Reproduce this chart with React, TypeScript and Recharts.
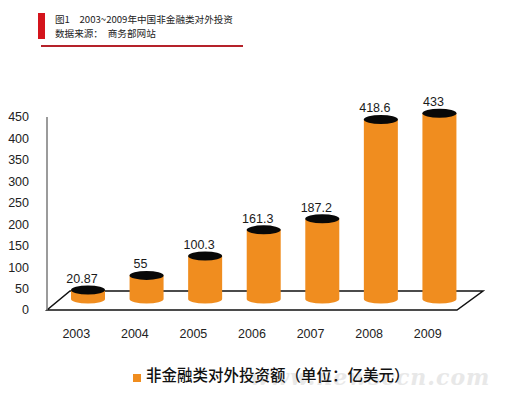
import { Bar, BarChart, LabelList, ReferenceLine, XAxis, YAxis } from "recharts";

const years = ["2003", "2004", "2005", "2006", "2007", "2008", "2009"];
const investment = [20.87, 55, 100.3, 161.3, 187.2, 418.6, 433];
const valueLabels = ["20.87", "55", "100.3", "161.3", "187.2", "418.6", "433"];
const yTicks = [0, 50, 100, 150, 200, 250, 300, 350, 400, 450];

const titleLine1 = "图1　2003~2009年中国非金融类对外投资";
const titleLine2 = "数据来源：　商务部网站";
const seriesName = "非金融类对外投资额（单位：亿美元）";

const data = years.map((year, i) => ({ year, value: investment[i], label: valueLabels[i] }));

const ORANGE = "#f08d1f";
const DEPTH_X = 12; // bars sit in the middle of the 3D floor
const DEPTH_Y = -11;
const FLOOR_DX = 24;
const FLOOR_DY = -19;
const NUM_FONT = "'Liberation Sans', Arial, sans-serif";
const CJK_FONT = "'Noto Sans CJK SC', 'Noto Sans', sans-serif";

function Cylinder(props: any) {
  const { x, y, width, height } = props;
  const rx = width / 2;
  const ry = 4.5;
  const cx = x + rx + DEPTH_X;
  const top = y + DEPTH_Y;
  const bottom = y + height + DEPTH_Y;
  return (
    <g>
      <path
        d={`M${cx - rx},${top} L${cx - rx},${bottom} A${rx},${ry} 0 0 0 ${cx + rx},${bottom} L${cx + rx},${top} Z`}
        fill={ORANGE}
      />
      <ellipse cx={cx} cy={top} rx={rx} ry={ry} fill="#080808" />
    </g>
  );
}

function ValueLabel(props: any) {
  const { x, y, width, value } = props;
  return (
    <text
      x={x + width / 2 + 6}
      y={y + DEPTH_Y - 11}
      textAnchor="middle"
      dominantBaseline="central"
      fontSize={12.5}
      fontFamily={NUM_FONT}
      fill="#1a1a1a"
    >
      {value}
    </text>
  );
}

function Floor(props: any) {
  const { x1, y1, x2, y2 } = props;
  const pts = [
    [x1, y1],
    [x2, y2],
    [x2 + FLOOR_DX + 2, y2 + FLOOR_DY],
    [x1 + FLOOR_DX - 1, y1 + FLOOR_DY],
  ];
  return (
    <polygon
      points={pts.map((p) => p.join(",")).join(" ")}
      fill="none"
      stroke="#111"
      strokeWidth={1.5}
    />
  );
}

const layer: React.CSSProperties = { position: "absolute", left: 0, top: 0 };

export default function App() {
  return (
    <div style={{ position: "absolute", left: 0, top: 0, width: 506, height: 399, background: "#fff" }}>
      {/* title block */}
      <div style={{ position: "absolute", left: 38, top: 13, width: 7, height: 26, background: "#d4141c" }} />
      <div
        style={{
          position: "absolute",
          left: 55,
          top: 12,
          fontFamily: CJK_FONT,
          fontSize: 9.6,
          lineHeight: "14px",
          color: "#222",
          whiteSpace: "pre",
        }}
      >
        <div>{titleLine1}</div>
        <div>{titleLine2}</div>
      </div>
      <div style={{ position: "absolute", left: 41, top: 45, width: 202, height: 2, background: "#b5222a" }} />

      {/* back layer: axes and the 3D floor */}
      <div style={layer}>
        <BarChart width={506} height={399} data={data} margin={{ top: 117, right: 49, left: 0, bottom: 59 }} barSize={34}>
          <YAxis
            domain={[0, 450]}
            ticks={yTicks}
            width={47}
            tickLine={false}
            tickSize={0}
            tickMargin={18}
            axisLine={{ stroke: "#7a7a7a", strokeWidth: 1.5 }}
            tick={{ fill: "#222", fontSize: 12.5, fontFamily: NUM_FONT }}
            interval={0}
          />
          <XAxis
            dataKey="year"
            height={30}
            axisLine={false}
            tickLine={false}
            tickSize={0}
            tickMargin={19}
            tick={{ fill: "#222", fontSize: 12.5, fontFamily: NUM_FONT }}
            interval={0}
          />
          <Bar dataKey="value" fill="none" isAnimationActive={false} />
          <ReferenceLine y={0} shape={Floor} />
        </BarChart>
      </div>

      {/* front layer: the cylinders, drawn over the floor */}
      <div style={layer}>
        <BarChart width={506} height={399} data={data} margin={{ top: 117, right: 49, left: 47, bottom: 89 }} barSize={34}>
          <YAxis hide domain={[0, 450]} ticks={yTicks} />
          <XAxis hide dataKey="year" />
          <Bar dataKey="value" shape={Cylinder} isAnimationActive={false}>
            <LabelList dataKey="label" content={ValueLabel} />
          </Bar>
        </BarChart>
      </div>

      {/* watermark */}
      <div
        style={{
          position: "absolute",
          left: 250,
          top: 364,
          fontFamily: "'DejaVu Serif', serif",
          fontStyle: "italic",
          fontWeight: "bold",
          fontSize: 22,
          color: "#e8e8e8",
          letterSpacing: 1,
        }}
      >
        www.newsccn.com
      </div>

      {/* legend */}
      <div style={{ position: "absolute", left: 133, top: 374, width: 8, height: 8, background: ORANGE }} />
      <div
        style={{
          position: "absolute",
          left: 146,
          top: 364,
          fontFamily: CJK_FONT,
          fontSize: 15.5,
          fontWeight: 500,
          lineHeight: "20px",
          color: "#111",
          whiteSpace: "pre",
        }}
      >
        {seriesName}
      </div>
    </div>
  );
}
